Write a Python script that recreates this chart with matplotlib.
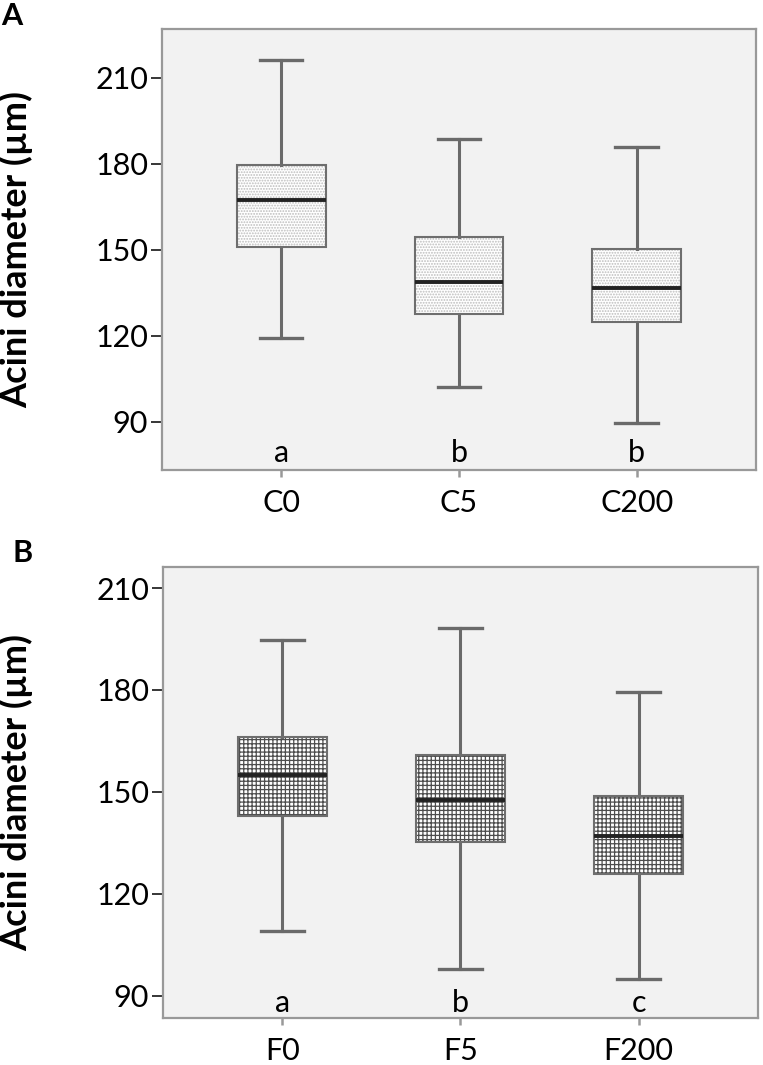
import matplotlib
matplotlib.use('Agg')
import matplotlib.pyplot as plt
from matplotlib.patches import PathPatch

plt.rcParams['font.family'] = ['Lato', 'DejaVu Sans']
plt.rcParams['hatch.linewidth'] = 0.9

# Panel A: C groups (box stats)
groups_a = ['C0', 'C5', 'C200']
low_a = [119.2, 102.2, 89.4]
q1_a = [151.0, 127.5, 124.9]
med_a = [167.4, 138.9, 136.6]
q3_a = [179.6, 154.6, 150.2]
high_a = [216.1, 188.7, 185.8]
letters_a = ['a', 'b', 'b']

# Panel B: F groups
groups_b = ['F0', 'F5', 'F200']
low_b = [109.0, 97.9, 95.0]
q1_b = [142.9, 135.3, 125.7]
med_b = [154.9, 147.6, 137.1]
q3_b = [166.2, 160.8, 148.9]
high_b = [194.8, 198.1, 179.4]
letters_b = ['a', 'b', 'c']

yticks = [90, 120, 150, 180, 210]

fig = plt.figure(figsize=(7.63, 10.65), dpi=100)
axA = fig.add_axes([0.2123, 0.5587, 0.7785, 0.4141])
axB = fig.add_axes([0.2136, 0.0441, 0.7798, 0.4235])


def draw_panel(ax, groups, lo, q1, med, q3, hi, letters, ylim, hatch, hatch_col, letter_y, lab_x):
    stats = []
    for i in range(len(groups)):
        stats.append(dict(label=groups[i], whislo=lo[i], q1=q1[i], med=med[i],
                          q3=q3[i], whishi=hi[i], fliers=[]))
    pos = [1, 2, 3]
    bp = ax.bxp(stats, positions=pos, widths=0.5, patch_artist=True,
                showfliers=False, capwidths=0.24,
                boxprops=dict(facecolor='white', edgecolor=hatch_col, linewidth=0, hatch=hatch),
                whiskerprops=dict(color='#6a6a6a', linewidth=2.2),
                capprops=dict(color='#6a6a6a', linewidth=2.4),
                medianprops=dict(color='#222222', linewidth=2.8))
    # box outlines on top of the hatched fill
    for b in bp['boxes']:
        ax.add_patch(PathPatch(b.get_path(), transform=b.get_transform(), fill=False,
                               edgecolor='#6e6e6e', linewidth=1.5, zorder=2.5))
    for line in bp['medians']:
        line.set_zorder(3)
    ax.set_facecolor('#f2f2f2')
    ax.set_xlim(0.33, 3.67)
    ax.set_ylim(*ylim)
    ax.set_yticks(yticks)
    ax.set_xticks(pos)
    ax.set_xticklabels(groups)
    for s in ax.spines.values():
        s.set_color('#999999')
        s.set_linewidth(1.6)
    ax.tick_params(axis='y', length=8, width=1.1, color='black', pad=2, labelsize=22)
    ax.tick_params(axis='x', length=5, width=1.8, color='#999999', pad=9, labelsize=22)
    for i, t in enumerate(letters):
        ax.text(pos[i], letter_y, t, ha='center', va='bottom', fontsize=22)
    ax.set_ylabel('Acini diameter (µm)', fontsize=26, fontweight='bold')
    ax.yaxis.set_label_coords(lab_x, 0.5)


draw_panel(axA, groups_a, low_a, q1_a, med_a, q3_a, high_a, letters_a,
           (73.1, 227.1), '......', '#bdbdbd', 74.0, -0.217)
draw_panel(axB, groups_b, low_b, q1_b, med_b, q3_b, high_b, letters_b,
           (83.4, 216.2), '++++', '#4d4d4d', 83.6, -0.2185)

fig.text(0.001, 0.985, 'A', fontsize=22, fontweight='bold', va='center')
fig.text(0.016, 0.481, 'B', fontsize=22, fontweight='bold', va='center')

fig.savefig('out.png', dpi=100)
